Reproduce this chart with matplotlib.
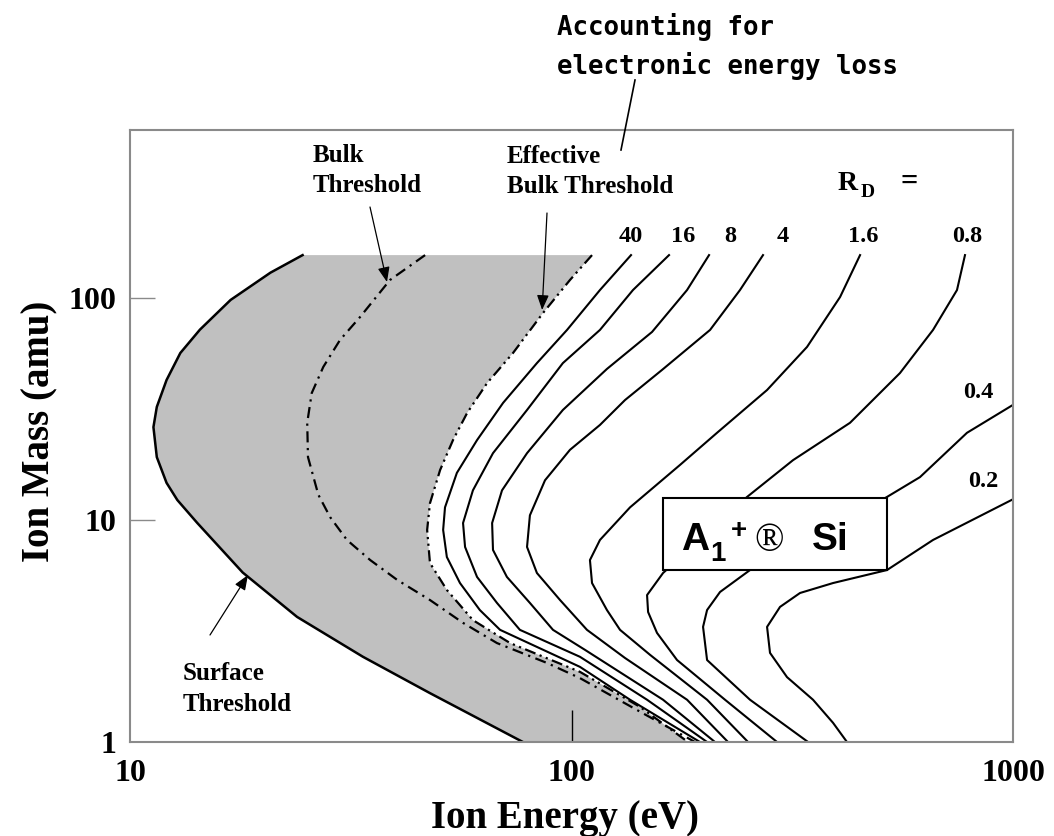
import numpy as np
import matplotlib
matplotlib.use("Agg")
import matplotlib.pyplot as plt
from matplotlib.patches import Rectangle
from matplotlib.lines import Line2D
from matplotlib.ticker import FixedLocator, FuncFormatter, NullLocator

# ---------------- data (ion energy in eV, ion mass in amu) ----------------
surface_energy = [24.6, 20.8, 16.9, 14.4, 13.0, 12.1, 11.5, 11.3, 11.5, 12.1, 12.8, 14.2, 18.0, 23.9, 33.7, 47.8, 77.6]
surface_mass = [156, 130, 98, 72, 56.5, 42.7, 32.3, 26.2, 19.2, 14.7, 12.3, 9.7, 5.8, 3.66, 2.42, 1.66, 1.0]

bulk_energy = [46.6, 38.8, 33.2, 29.9, 27.4, 25.8, 25.2, 25.3, 26.7, 28.4, 31.0, 35.0, 40.3, 47.8, 56.8, 67.8, 88.0, 104.5, 142.9, 190.4]
bulk_mass = [156, 120.5, 82.1, 64.7, 48.9, 37.3, 27.4, 19.2, 13.0, 10.3, 8.13, 6.60, 5.37, 4.36, 3.44, 2.79, 2.27, 1.94, 1.37, 1.0]

eff_energy = [111.3, 99.2, 86.2, 73.7, 64.4, 58.0, 53.9, 50.4, 47.8, 47.1, 47.8, 52.2, 59.8, 72.6, 104.5, 142.9, 183.6]
eff_mass = [156, 120.5, 85.6, 56.5, 41.4, 30.3, 22.9, 16.8, 11.9, 9.02, 6.40, 4.84, 3.54, 2.79, 2.07, 1.44, 1.0]

rd40_energy = [136.4, 116.0, 97.7, 83.5, 70.0, 61.1, 55.0, 51.7, 51.2, 52.2, 55.9, 62.0, 68.9, 104.5, 135.7, 195.4]
rd40_mass = [156, 108.6, 71.8, 50.9, 33.7, 22.9, 16.3, 11.4, 9.02, 6.81, 5.20, 3.93, 3.20, 2.18, 1.55, 1.0]

rd16_energy = [166.3, 137.8, 116.0, 95.6, 79.3, 66.4, 59.8, 56.8, 57.4, 61.1, 67.8, 76.4, 104.5, 148.3, 202.8]
rd16_mass = [156, 108.6, 71.8, 50.9, 31.3, 20.0, 13.6, 9.69, 7.56, 5.54, 4.23, 3.20, 2.42, 1.55, 1.0]

rd8_energy = [204.9, 182.7, 152.2, 120.3, 95.6, 79.3, 69.6, 66.1, 66.4, 71.4, 80.5, 90.8, 107.3, 161.2, 211.3]
rd8_mass = [156, 108.6, 70.3, 47.9, 31.3, 20.0, 13.6, 9.69, 7.33, 5.54, 4.23, 3.20, 2.60, 1.55, 1.0]

rd4_energy = [271.5, 240.8, 206.0, 160.3, 132.2, 116.0, 99.2, 87.1, 80.5, 79.3, 83.5, 94.2, 108.4, 132.2, 182.7, 226.2]
rd4_mass = [156, 108.6, 71.8, 47.4, 34.7, 26.8, 20.7, 15.1, 10.5, 7.56, 5.77, 4.36, 3.20, 2.39, 1.55, 1.0]

rd1p6_energy = [450.4, 405.8, 341.6, 277.3, 213.6, 176.1, 135.7, 116.0, 110.1, 111.3, 120.3, 128.8, 150.6, 202.8, 251.1]
rd1p6_mass = [156, 101.0, 60.2, 38.5, 24.7, 17.7, 11.4, 8.13, 6.60, 5.20, 3.93, 3.20, 2.47, 1.55, 1.0]

rd0p8_energy = [778.5, 746.7, 659.0, 554.6, 427.4, 317.5, 249.8, 200.6, 161.2, 148.3, 149.1, 156.2, 173.4, 222.7, 292.1]
rd0p8_mass = [156, 108.6, 71.8, 45.9, 27.4, 18.6, 12.7, 8.56, 5.77, 4.59, 3.85, 3.10, 2.34, 1.55, 1.0]

rd0p4_energy = [1000, 786.6, 615.6, 518.3, 365.5, 253.7, 217.0, 202.8, 198.6, 202.8, 253.7, 343.4]
rd0p4_mass = [33.0, 24.7, 15.6, 12.7, 8.56, 5.95, 4.74, 3.93, 3.30, 2.34, 1.55, 1.0]

rd0p2_energy = [1000, 659.0, 518.3, 391.2, 329.3, 296.7, 277.3, 281.6, 307.7, 352.4, 391.2, 420.7]
rd0p2_mass = [12.4, 8.13, 5.95, 5.20, 4.69, 4.06, 3.30, 2.52, 1.96, 1.55, 1.22, 1.0]

rd_labels = ["40", "16", "8", "4", "1.6", "0.8", "0.4", "0.2"]
rd_curves = [(rd40_energy, rd40_mass), (rd16_energy, rd16_mass), (rd8_energy, rd8_mass),
             (rd4_energy, rd4_mass), (rd1p6_energy, rd1p6_mass), (rd0p8_energy, rd0p8_mass),
             (rd0p4_energy, rd0p4_mass), (rd0p2_energy, rd0p2_mass)]

x_ticks = [10, 100, 1000]
y_ticks = [1, 10, 100]

# ---------------- figure ----------------
W, H = 1054, 836
plt.rcParams['font.family'] = ['Liberation Serif', 'DejaVu Serif']
plt.rcParams['font.weight'] = 'bold'

fig = plt.figure(figsize=(W / 100, H / 100), dpi=100)
ax = fig.add_axes([130 / W, 1 - 742 / H, 883 / W, 612 / H])
ax.set_xscale('log')
ax.set_yscale('log')
ax.set_xlim(10, 1000)
ax.set_ylim(1, 571)


def fxy(x, y):
    """pixel position (origin top-left) -> figure fraction"""
    return x / W, 1 - y / H


# shaded band between surface threshold and effective bulk threshold
ax.fill(np.concatenate([surface_energy[::-1], eff_energy]),
        np.concatenate([surface_mass[::-1], eff_mass]),
        color='#c0c0c0', lw=0, zorder=1)

ax.plot(surface_energy, surface_mass, color='black', lw=1.8, zorder=3,
        solid_joinstyle='round')
ax.plot(bulk_energy, bulk_mass, color='black', lw=1.6, zorder=3,
        dashes=(5, 2.5, 1, 2.5))
ax.plot(eff_energy, eff_mass, color='black', lw=1.6, zorder=3,
        dashes=(5, 2, 1, 2, 1, 2))

for e, m in rd_curves:
    ax.plot(e, m, color='black', lw=1.5, zorder=3, solid_joinstyle='round')

# axes styling
for s in ax.spines.values():
    s.set_color('#8a8a8a')
    s.set_linewidth(1.5)
    s.set_zorder(4)
ax.xaxis.set_major_locator(FixedLocator(x_ticks))
ax.yaxis.set_major_locator(FixedLocator(y_ticks))
ax.xaxis.set_minor_locator(NullLocator())
ax.yaxis.set_minor_locator(NullLocator())
fmt = FuncFormatter(lambda v, _: f"{v:g}")
ax.xaxis.set_major_formatter(fmt)
ax.yaxis.set_major_formatter(fmt)
ax.tick_params(axis='x', direction='in', length=23, width=1.0, color='black',
               labelsize=23, pad=12)
ax.tick_params(axis='y', direction='in', length=18, width=1.0, color='#8a8a8a',
               labelsize=23, pad=10)
# tick marks that would sit on the frame itself are not drawn
xt = ax.xaxis.get_major_ticks()
xt[0].tick1line.set_visible(False)
xt[-1].tick1line.set_visible(False)
ax.yaxis.get_major_ticks()[0].tick1line.set_visible(False)

# axis titles
fig.text(*fxy(565, 828), "Ion Energy (eV)", ha='center', va='baseline',
         fontsize=28, fontweight='bold')
fig.text(*fxy(40, 431), "Ion Mass (amu)", ha='center', va='center',
         rotation=90, fontsize=28, fontweight='bold')

# heading above the plot
mono = dict(family='DejaVu Sans Mono', fontweight='bold', fontsize=18.5,
            ha='left', va='baseline')
fig.text(*fxy(557, 35), "Accounting for", **mono)
fig.text(*fxy(557, 74), "electronic energy loss", **mono)
fig.add_artist(Line2D([635 / W, 621 / W], [1 - 80 / H, 1 - 150 / H],
                      transform=fig.transFigure, color='black', lw=1.2))

# in-plot annotations
small = dict(fontsize=18, fontweight='bold', ha='left', va='baseline')
fig.text(*fxy(313, 162), "Bulk", **small)
fig.text(*fxy(313, 192), "Threshold", **small)
fig.text(*fxy(507, 163), "Effective", **small)
fig.text(*fxy(507, 193), "Bulk Threshold", **small)
fig.text(*fxy(183, 680), "Surface", **small)
fig.text(*fxy(183, 711), "Threshold", **small)

fig.text(*fxy(838, 190), "R", fontsize=20, fontweight='bold', ha='left', va='baseline')
fig.text(*fxy(861, 197), "D", fontsize=14, fontweight='bold', ha='left', va='baseline')
fig.text(*fxy(900, 190), "=", fontsize=22, fontweight='bold', ha='left', va='baseline')

label_px = [(631, 242), (683, 242), (730, 242), (783, 242), (863, 242), (967, 242),
            (978, 398), (983, 487)]
for lab, (px, py) in zip(rd_labels, label_px):
    fig.text(*fxy(px, py), lab, fontsize=17.5, fontweight='bold',
             ha='center', va='baseline')

arrow = dict(arrowstyle='-|>,head_length=0.75,head_width=0.3', color='black',
             lw=0.9, shrinkA=0, shrinkB=0, mutation_scale=12)
ax.annotate('', xy=(38.2, 118), xycoords='data',
            xytext=fxy(370, 207), textcoords='figure fraction', arrowprops=arrow)
ax.annotate('', xy=(85.8, 88.3), xycoords='data',
            xytext=fxy(547, 213), textcoords='figure fraction', arrowprops=arrow)
ax.annotate('', xy=(18.5, 5.65), xycoords='data',
            xytext=fxy(210, 635), textcoords='figure fraction', arrowprops=arrow)

# reaction label box
bx0, by0 = fxy(663, 570)
bx1, by1 = fxy(887, 498)
fig.add_artist(Rectangle((bx0, by0), bx1 - bx0, by1 - by0, transform=fig.transFigure,
                         facecolor='white', edgecolor='black', lw=1.5, zorder=5))
sans = dict(family='Liberation Sans', fontweight='bold', ha='left', va='baseline', zorder=6)
fig.text(*fxy(681, 550), "A", fontsize=28, **sans)
fig.text(*fxy(710, 561), "1", fontsize=20, **sans)
fig.text(*fxy(731, 538), "+", fontsize=20, **sans)
fig.text(*fxy(754, 551), "\u00ae", family='Liberation Serif', fontweight='normal',
         fontsize=28, ha='left', va='baseline', zorder=6)
fig.text(*fxy(812, 550), "Si", fontsize=28, **sans)

fig.savefig("out.png", dpi=100)
